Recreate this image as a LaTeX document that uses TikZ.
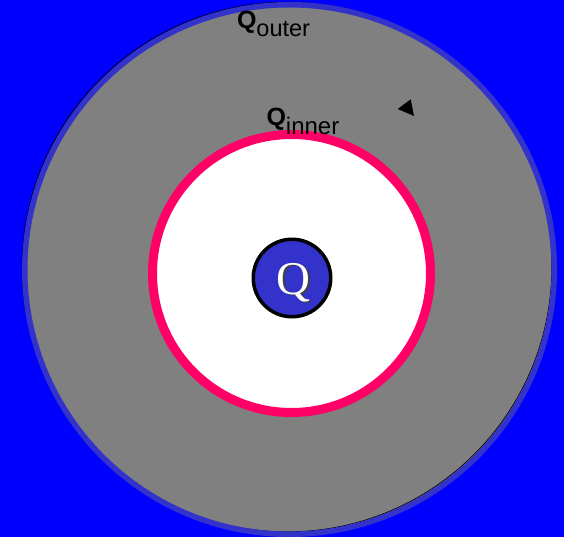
\documentclass[tikz,border=0pt]{standalone}
\usepackage{fontspec}
\newfontfamily\labelfont{Liberation Sans}
\newfontfamily\chargefont{Liberation Serif}
\definecolor{bgblue}{HTML}{0000FF}
\definecolor{ringblue}{HTML}{3333CC}
\definecolor{shellgray}{HTML}{808080}
\definecolor{pinkring}{HTML}{FF0066}
\tikzset{
  qlabel/.style={inner sep=0pt, outer sep=0pt, anchor=base west, font=\labelfont, text=black},
}
\begin{document}
\begin{tikzpicture}[x=1pt,y=-1pt]
\useasboundingbox (0,0) rectangle (564,537);
\fill[bgblue] (0,0) rectangle (564,537);
% outer shell
\coordinate (oc) at (289.5,269.5);
\fill[shellgray] (oc) circle[radius=266];
\draw[black, line width=0.7pt] (287,267) circle[radius=264.8];
\draw[ringblue, line width=5.5pt] (oc) circle[radius=264.75];
% cavity
\coordinate (ic) at (291.5,273.5);
\draw[pinkring, fill=white, line width=9pt] (ic) circle[radius=139];
% point charge
\node[circle, draw=black, line width=3.5pt, fill=ringblue, minimum size=77.5pt, inner sep=0pt] (qc) at (292,278) {};
\node[inner sep=0pt, anchor=base, text=white, font=\chargefont\fontsize{47}{47}\selectfont] (qtext) at (293.5,294)
  {\rlap{\kern1.8pt\raisebox{-1.8pt}{\color{black!75}Q}}Q};
% labels
\node[qlabel] (qouter) at (237,28.3) {{\fontsize{25}{25}\selectfont\bfseries Q}{\fontsize{23.5}{23.5}\selectfont\raisebox{-8pt}{outer}}};
\node[qlabel] (qinner) at (266.5,125.7) {{\fontsize{25}{25}\selectfont\bfseries Q}{\fontsize{24}{24}\selectfont\raisebox{-8.8pt}{inner}}};
% small triangle
\fill[black] (397.7,109) -- (410.7,99.3) -- (414,116) -- cycle;
\end{tikzpicture}
\end{document}
